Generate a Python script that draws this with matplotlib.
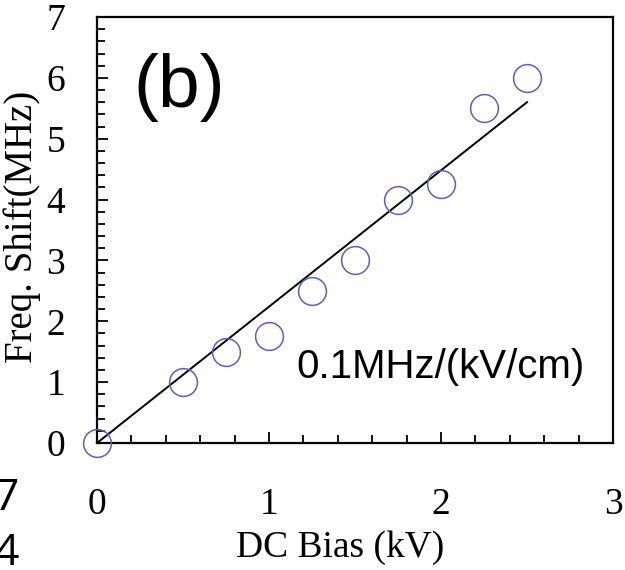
import matplotlib
matplotlib.use("Agg")
import matplotlib.pyplot as plt
from matplotlib.ticker import MultipleLocator

# Measured frequency shift versus applied DC bias
bias_kv = [0.0, 0.5, 0.75, 1.0, 1.25, 1.5, 1.75, 2.0, 2.25, 2.5]
shift_mhz = [0.0, 1.0, 1.5, 1.75, 2.5, 3.0, 4.0, 4.25, 5.5, 6.0]

# Linear fit through the origin
fit_x = [0.0, 2.5]
fit_y = [0.0, 5.6]

x_ticks = [0, 1, 2, 3]
y_ticks = [0, 1, 2, 3, 4, 5, 6, 7]

serif = "Liberation Serif"
sans = "Liberation Sans"

fig = plt.figure(figsize=(6.25, 5.70), dpi=100)
ax = fig.add_axes([0.1552, 0.2228, 0.8256, 0.7474])

ax.plot(fit_x, fit_y, color="black", lw=1.4, zorder=2)
ax.plot(bias_kv, shift_mhz, linestyle="none", marker="o", markersize=20,
        markerfacecolor="none", markeredgecolor="#5c5cc8", markeredgewidth=1.1,
        clip_on=False, zorder=3)

ax.set_xlim(0, 3)
ax.set_ylim(0, 7)
ax.set_xticks(x_ticks)
ax.set_yticks(y_ticks)
ax.xaxis.set_minor_locator(MultipleLocator(0.2))
ax.yaxis.set_minor_locator(MultipleLocator(0.2))
ax.tick_params(which="both", direction="in", top=False, right=False)
ax.tick_params(which="major", length=8, width=1.3)
ax.tick_params(which="minor", length=5.5, width=1.3)
ax.tick_params(axis="x", which="major", pad=32)
ax.tick_params(axis="y", which="major", pad=23)
for lab in ax.get_xticklabels() + ax.get_yticklabels():
    lab.set_fontfamily(serif)
    lab.set_fontsize(27)

for s in ax.spines.values():
    s.set_linewidth(1.6)

ax.set_xlabel("DC Bias (kV)", fontfamily=serif, fontsize=27, va="center")
ax.xaxis.set_label_coords(0.471, -0.246)
ax.set_ylabel("Freq. Shift(MHz)", fontfamily=serif, fontsize=28, va="center")
ax.yaxis.set_label_coords(-0.145, 0.507)

ax.text(0.071, 0.7876, "(b)", transform=ax.transAxes, fontfamily=sans,
        fontsize=54, va="baseline", ha="left")
ax.text(0.386, 0.153, "0.1MHz/(kV/cm)", transform=ax.transAxes,
        fontfamily=sans, fontsize=29, va="baseline", ha="left")

# Fragments of a neighbouring panel at the left edge
fig.text(-0.0096, 0.105, "7", fontfamily="Open Sans", fontsize=32,
         ha="left", va="baseline")
fig.text(-0.0096, 0.009, "4", fontfamily="Open Sans", fontsize=32,
         ha="left", va="baseline")

fig.savefig("out.png", dpi=100)
